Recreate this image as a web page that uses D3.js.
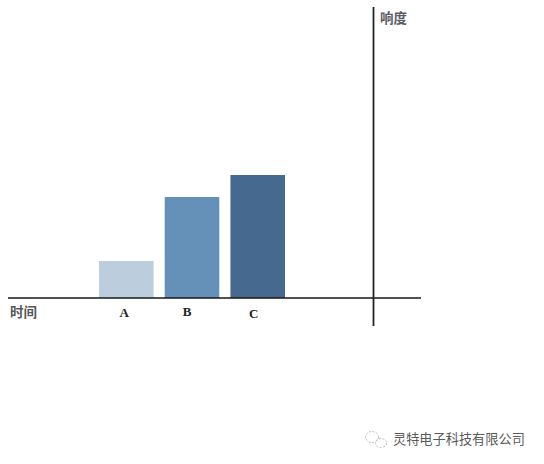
<!DOCTYPE html>
<html>
<head>
<meta charset="utf-8">
<script src="https://cdn.jsdelivr.net/npm/d3@7"></script>
<style>
html, body { margin: 0; padding: 0; background: #fff; }
svg { display: block; }
</style>
</head>
<body>
<svg id="chart" width="544" height="464"></svg>
<script>
var categories = ['A', 'B', 'C'];
var loudness = [37, 101, 123];
var barColors = ['#bccddd', '#6590b8', '#46698f'];
var xTitle = '时间';
var yTitle = '响度';
var watermark = '灵特电子科技有限公司';

var svg = d3.select('#chart');
var cjk = '"Noto Sans CJK SC", sans-serif';
var serif = '"Liberation Serif", "DejaVu Serif", serif';

var x = d3.scaleBand()
    .domain(categories)
    .range([99, 285])
    .paddingInner(0.17);
var y = d3.scaleLinear()
    .domain([0, 291])
    .range([298, 7]);

svg.selectAll('rect.bar')
    .data(categories)
    .enter().append('rect')
    .attr('class', 'bar')
    .attr('x', function(d) { return x(d); })
    .attr('y', function(d, i) { return y(loudness[i]); })
    .attr('width', x.bandwidth())
    .attr('height', function(d, i) { return y(0) - y(loudness[i]); })
    .attr('fill', function(d, i) { return barColors[i]; });

// axes cross at the right, horizontal one runs past the vertical
svg.append('line')
    .attr('x1', 8).attr('x2', 421)
    .attr('y1', y(0)).attr('y2', y(0))
    .attr('stroke', '#15171a')
    .attr('stroke-width', 1.6);
svg.append('line')
    .attr('x1', 373.5).attr('x2', 373.5)
    .attr('y1', y(291)).attr('y2', 326)
    .attr('stroke', '#222528')
    .attr('stroke-width', 1.8);

var labelY = [317, 316, 318];
svg.selectAll('text.cat')
    .data(categories)
    .enter().append('text')
    .attr('class', 'cat')
    .attr('x', function(d, i) { return x(d) + x.bandwidth() / 2 - [2, 5, 4][i]; })
    .attr('y', function(d, i) { return labelY[i]; })
    .attr('text-anchor', 'middle')
    .attr('font-family', serif)
    .attr('font-weight', 'bold')
    .attr('font-size', 13)
    .attr('fill', '#222')
    .text(function(d) { return d; });

svg.append('text')
    .attr('x', 10).attr('y', 317)
    .attr('font-family', cjk)
    .attr('font-weight', 'bold')
    .attr('font-size', 13.5)
    .attr('fill', '#55585c')
    .text(xTitle);
svg.append('text')
    .attr('x', 380).attr('y', 23)
    .attr('font-family', cjk)
    .attr('font-weight', 'bold')
    .attr('font-size', 13.5)
    .attr('fill', '#5a5d64')
    .text(yTitle);

// watermark: small chat-bubble logo plus company name
var logo = svg.append('g')
    .attr('fill', 'none')
    .attr('stroke', '#bdbdbd')
    .attr('stroke-width', 1)
    .attr('stroke-dasharray', '2 1.5');
logo.append('ellipse').attr('cx', 372).attr('cy', 437).attr('rx', 6.5).attr('ry', 5.5);
logo.append('ellipse').attr('cx', 381).attr('cy', 443).attr('rx', 5.5).attr('ry', 4.5);

svg.append('text')
    .attr('x', 393).attr('y', 444)
    .attr('font-family', cjk)
    .attr('font-size', 13.2)
    .attr('fill', '#5a5a5a')
    .text(watermark);
</script>
</body>
</html>
